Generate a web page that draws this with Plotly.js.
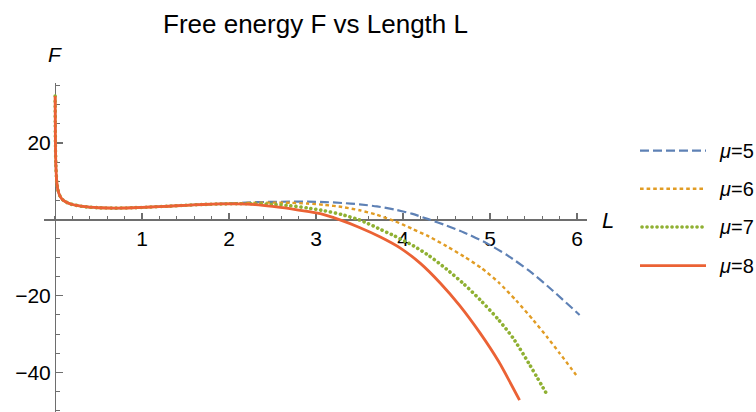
<!DOCTYPE html>
<html>
<head>
<meta charset="utf-8">
<script src="https://cdn.plot.ly/plotly-3.0.1.min.js"></script>
<style>
  html, body { margin: 0; padding: 0; background: #fff; }
  #chart { width: 756px; height: 412px; }
  /* round caps turn the near-zero dashes of the mu=7 curve into dots */
  #chart .scatterlayer .trace:nth-child(3) .js-line,
  #chart .shapelayer .dotted-swatch path,
  #chart path.round-cap { stroke-linecap: round !important; }
</style>
</head>
<body>
<div id="chart"></div>
<script>
// Shared branch at small L (all four curves coincide there)
const lHead = [0.002, 0.005, 0.01, 0.02, 0.035, 0.06, 0.1, 0.15, 0.2, 0.3, 0.4, 0.5, 0.7, 0.9, 1.1, 1.3, 1.5, 1.7, 1.9];
const fHead = [32.3, 20.5, 14.5, 10.0, 7.6, 6.0, 4.9, 4.3, 3.9, 3.45, 3.2, 3.05, 2.95, 3.05, 3.25, 3.45, 3.7, 3.9, 4.05];

// mu = 5
const lMu5 = [2.1, 2.3, 2.5, 2.7, 2.9, 3.1, 3.3, 3.5, 3.7, 3.9, 4.1, 4.3, 4.5, 4.7, 4.96, 5.2, 5.46, 5.7, 6.03];
const fMu5 = [4.3, 4.5, 4.6, 4.65, 4.65, 4.55, 4.3, 3.95, 3.4, 2.6, 1.5, 0.0, -1.6, -3.4, -6.2, -9.4, -13.6, -18.2, -25.0];

// mu = 6
const lMu6 = [2.1, 2.3, 2.5, 2.7, 2.9, 3.1, 3.3, 3.5, 3.7, 3.9, 4.1, 4.3, 4.5, 4.7, 4.9, 5.1, 5.3, 5.5, 5.65, 5.8, 5.99];
const fMu6 = [4.2, 4.35, 4.4, 4.35, 4.15, 3.8, 3.25, 2.4, 1.2, -0.4, -2.4, -4.5, -7.0, -9.7, -12.7, -16.5, -21.2, -26.4, -30.6, -35.0, -40.7];

// mu = 7
const lMu7 = [2.1, 2.3, 2.5, 2.7, 2.9, 3.1, 3.3, 3.47, 3.6, 3.74, 3.9, 4.12, 4.3, 4.5, 4.7, 4.885, 5.1, 5.27, 5.45, 5.67];
const fMu7 = [4.1, 4.1, 3.95, 3.6, 3.0, 2.25, 1.25, 0.1, -1.1, -2.6, -4.3, -6.9, -9.5, -13.0, -16.9, -21.0, -26.3, -31.2, -37.8, -46.4];

// mu = 8
const lMu8 = [2.1, 2.3, 2.5, 2.7, 2.9, 3.05, 3.26, 3.5, 3.74, 3.97, 4.2, 4.43, 4.65, 4.885, 5.1, 5.34];
const fMu8 = [4.05, 3.85, 3.4, 2.8, 2.1, 1.5, 0.0, -2.1, -4.6, -7.5, -11.5, -16.7, -22.5, -29.7, -37.2, -47.3];

const seriesNames = ['μ=5', 'μ=6', 'μ=7', 'μ=8'];
const xTickVals = [1, 2, 3, 4, 5, 6];
const xTickText = ['1', '2', '3', '4', '5', '6'];
const yTickVals = [20, -20, -40];
const yTickText = ['20', '\u221220', '\u221240'];

const xRange = [-0.126, 6.115];
const yRange = [-50.4, 35.7];

const styles = [
  { color: '#5E81B5', width: 2.2, dash: '9px,4px' },
  { color: '#E19C24', width: 2.4, dash: '3.6px,3px' },
  { color: '#8FB032', width: 3.6, dash: '0.1px,4.9px' },
  { color: '#EB6235', width: 2.8, dash: 'solid' }
];

const tails = [[lMu5, fMu5], [lMu6, fMu6], [lMu7, fMu7], [lMu8, fMu8]];
const traces = tails.map(([lt, ft], i) => ({
  type: 'scatter',
  mode: 'lines',
  name: seriesNames[i],
  x: lHead.concat(lt),
  y: fHead.concat(ft),
  line: { color: styles[i].color, width: styles[i].width, dash: styles[i].dash, shape: 'spline', smoothing: 0.6 },
  hoverinfo: 'skip'
}));

// plot area geometry in pixels
const W = 756, H = 412;
const M = { l: 44, r: 169, t: 83, b: 0 };
const pw = W - M.l - M.r, ph = H - M.t - M.b;
const px = x => (x - M.l) / pw;
const py = y => (H - M.b - y) / ph;

const FONT = 'Liberation Sans, Arial, Helvetica, sans-serif';
const axisColor = '#6e6e6e';

// legend drawn as swatches + labels on the right
const legendRows = [150.7, 188.7, 227, 265.7];
const shapes = legendRows.map((yy, i) => ({
  type: 'line', xref: 'paper', yref: 'paper',
  x0: px(i === 2 ? 642 : 640), x1: px(i === 2 ? 705 : 706), y0: py(yy), y1: py(yy),
  line: { color: styles[i].color, width: styles[i].width, dash: styles[i].dash }
}));
const annotations = legendRows.map((yy, i) => ({
  xref: 'paper', yref: 'paper', x: px(717), y: py(yy),
  xanchor: 'left', yanchor: 'middle', showarrow: false,
  text: '<i>μ</i>=' + seriesNames[i].split('=')[1],
  font: { family: FONT, size: 20, color: '#000' }
}));
annotations.push({
  xref: 'paper', yref: 'paper', x: px(55), y: py(54.5),
  xanchor: 'center', yanchor: 'middle', showarrow: false,
  text: '<i>F</i>', font: { family: FONT, size: 21, color: '#000' }
});
annotations.push({
  xref: 'paper', yref: 'paper', x: px(608), y: py(220),
  xanchor: 'center', yanchor: 'middle', showarrow: false,
  text: '<i>L</i>', font: { family: FONT, size: 22, color: '#000' }
});

const layout = {
  width: W, height: H,
  margin: M,
  paper_bgcolor: '#fff', plot_bgcolor: '#fff',
  showlegend: false,
  title: {
    text: 'Free energy F vs Length L',
    font: { family: FONT, size: 26, color: '#000' },
    x: 0.5, xref: 'paper', xanchor: 'center',
    y: 1 - 24 / H, yref: 'container', yanchor: 'middle'
  },
  xaxis: {
    range: xRange, anchor: 'free',
    position: (0 - yRange[0]) / (yRange[1] - yRange[0]),
    showline: true, linecolor: axisColor, linewidth: 1.2,
    ticks: 'inside', ticklen: 6, tickwidth: 1.1, tickcolor: axisColor,
    tickmode: 'array', tickvals: xTickVals, ticktext: xTickText,
    tickfont: { family: FONT, size: 21, color: '#000' },
    minor: { tickmode: 'linear', tick0: 0, dtick: 0.2, ticks: 'inside', ticklen: 3.5, tickwidth: 1, tickcolor: axisColor, showgrid: false },
    showgrid: false, zeroline: false, layer: 'below traces', fixedrange: true
  },
  yaxis: {
    range: yRange, anchor: 'free',
    position: (0 - xRange[0]) / (xRange[1] - xRange[0]),
    showline: true, linecolor: axisColor, linewidth: 1.2,
    ticks: 'inside', ticklen: 7, tickwidth: 1.1, tickcolor: axisColor,
    tickmode: 'array', tickvals: yTickVals, ticktext: yTickText,
    tickfont: { family: FONT, size: 21, color: '#000' },
    minor: { tickmode: 'linear', tick0: 0, dtick: 5, ticks: 'inside', ticklen: 4, tickwidth: 1, tickcolor: axisColor, showgrid: false },
    showgrid: false, zeroline: false, layer: 'below traces', fixedrange: true
  },
  shapes: shapes,
  annotations: annotations
};

Plotly.newPlot('chart', traces, layout, { displayModeBar: false, staticPlot: true }).then(gd => {
  // give the dotted swatch in the legend round caps as well
  const swatches = gd.querySelectorAll('.shapelayer path');
  if (swatches[2]) swatches[2].classList.add('round-cap');
});
</script>
</body>
</html>
